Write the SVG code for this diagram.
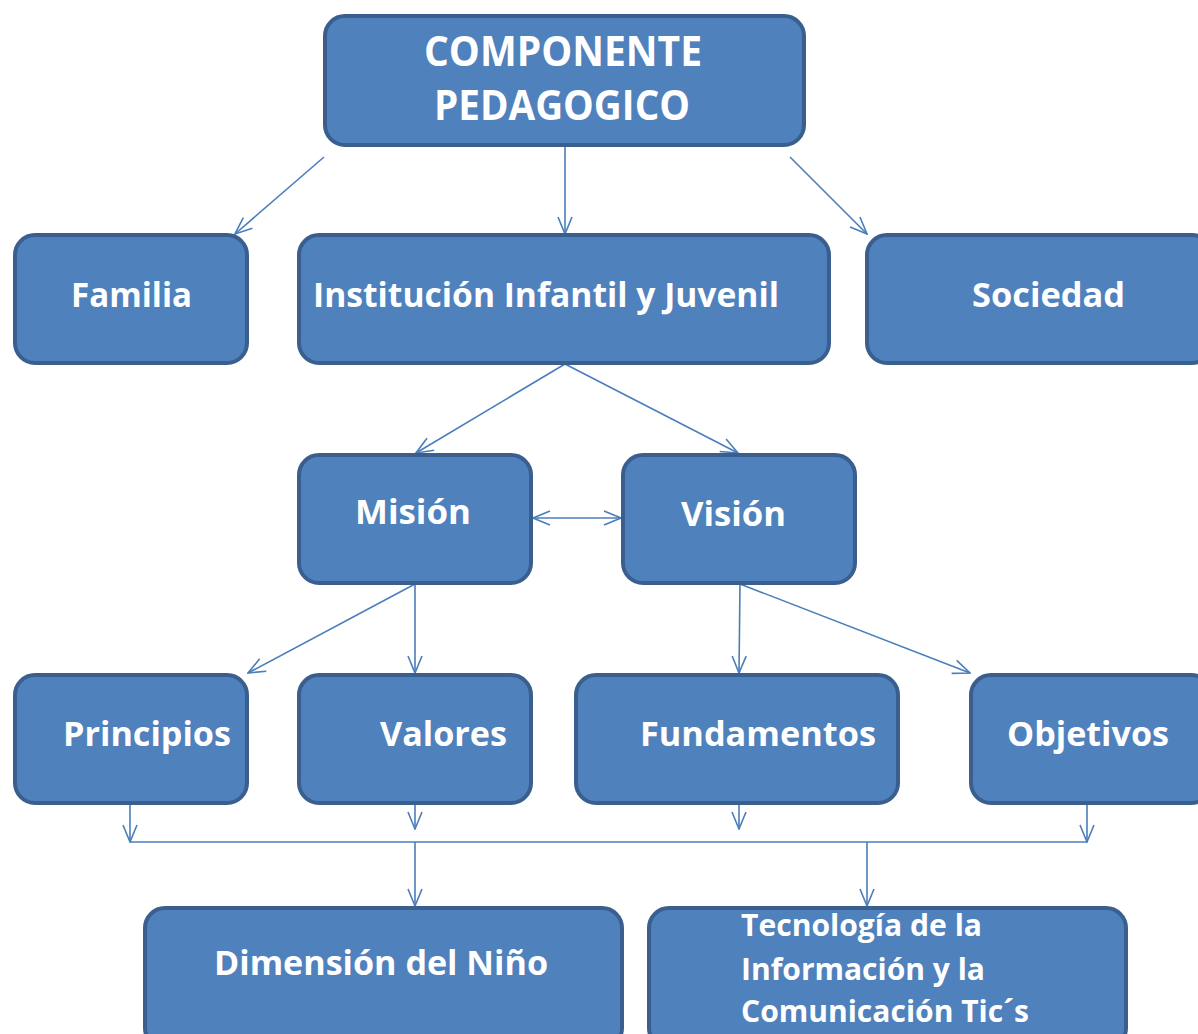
<svg xmlns="http://www.w3.org/2000/svg" width="1198" height="1034" viewBox="0 0 1198 1034">
<defs>
<style>
.box{fill:#4f81bd;stroke:#3a5f8e;stroke-width:4}
.t{fill:#fff;font-family:"Open Sans","Liberation Sans",sans-serif;font-weight:bold;font-size:34px}
.t.big{font-size:41px}
.t.sm{font-size:30px}
.c{fill:none;stroke:#4a7ebb;stroke-width:1.6}
</style>
<marker id="a" viewBox="0 0 20 20" refX="19" refY="10" markerWidth="20" markerHeight="20" markerUnits="userSpaceOnUse" orient="auto-start-reverse">
<path d="M2,3 L19,10 L2,17" fill="none" stroke="#4a7ebb" stroke-width="1.6"/>
</marker>
</defs>
<rect width="1198" height="1034" fill="#fff"/>
<g id="connectors">
<line class="c" x1="324" y1="157" x2="235" y2="234" marker-end="url(#a)"/>
<line class="c" x1="565" y1="146" x2="565" y2="234" marker-end="url(#a)"/>
<line class="c" x1="790" y1="157" x2="867" y2="234" marker-end="url(#a)"/>
<line class="c" x1="565" y1="364" x2="416" y2="453" marker-end="url(#a)"/>
<line class="c" x1="565" y1="364" x2="738" y2="453" marker-end="url(#a)"/>
<line class="c" x1="533" y1="518" x2="621" y2="518" marker-start="url(#a)" marker-end="url(#a)"/>
<line class="c" x1="415" y1="584" x2="248" y2="673" marker-end="url(#a)"/>
<line class="c" x1="415" y1="584" x2="415" y2="673" marker-end="url(#a)"/>
<line class="c" x1="740" y1="584" x2="739" y2="673" marker-end="url(#a)"/>
<line class="c" x1="740" y1="584" x2="970" y2="673" marker-end="url(#a)"/>
<line class="c" x1="130" y1="804" x2="130" y2="842" marker-end="url(#a)"/>
<line class="c" x1="415" y1="804" x2="415" y2="829" marker-end="url(#a)"/>
<line class="c" x1="739" y1="804" x2="739" y2="829" marker-end="url(#a)"/>
<line class="c" x1="1087" y1="804" x2="1087" y2="842" marker-end="url(#a)"/>
<line class="c" x1="130" y1="842" x2="1087" y2="842"/>
<line class="c" x1="415" y1="842" x2="415" y2="906" marker-end="url(#a)"/>
<line class="c" x1="867" y1="842" x2="867" y2="906" marker-end="url(#a)"/>
</g>
<g id="componente"><rect class="box" x="325" y="16" width="479" height="129" rx="20"/>
<text class="t big" x="424" y="66" textLength="278" lengthAdjust="spacingAndGlyphs">COMPONENTE</text>
<text class="t big" x="434" y="120" textLength="256" lengthAdjust="spacingAndGlyphs">PEDAGOGICO</text></g>
<g id="familia"><rect class="box" x="15" y="235" width="232" height="128" rx="20"/>
<text class="t" x="71" y="307" textLength="121" lengthAdjust="spacingAndGlyphs">Familia</text></g>
<g id="institucion"><rect class="box" x="299" y="235" width="530" height="128" rx="20"/>
<text class="t" x="313" y="307" textLength="466" lengthAdjust="spacingAndGlyphs">Institución Infantil y Juvenil</text></g>
<g id="sociedad"><rect class="box" x="867" y="235" width="345" height="128" rx="20"/>
<text class="t" x="972" y="307" textLength="153" lengthAdjust="spacingAndGlyphs">Sociedad</text></g>
<g id="mision"><rect class="box" x="299" y="455" width="232" height="128" rx="20"/>
<text class="t" x="355" y="524" textLength="116" lengthAdjust="spacingAndGlyphs">Misión</text></g>
<g id="vision"><rect class="box" x="623" y="455" width="232" height="128" rx="20"/>
<text class="t" x="681" y="526" textLength="105" lengthAdjust="spacingAndGlyphs">Visión</text></g>
<g id="principios"><rect class="box" x="15" y="675" width="232" height="128" rx="20"/>
<text class="t" x="63" y="746" textLength="168" lengthAdjust="spacingAndGlyphs">Principios</text></g>
<g id="valores"><rect class="box" x="299" y="675" width="232" height="128" rx="20"/>
<text class="t" x="380" y="746" textLength="127" lengthAdjust="spacingAndGlyphs">Valores</text></g>
<g id="fundamentos"><rect class="box" x="576" y="675" width="322" height="128" rx="20"/>
<text class="t" x="640" y="746" textLength="236" lengthAdjust="spacingAndGlyphs">Fundamentos</text></g>
<g id="objetivos"><rect class="box" x="971" y="675" width="240" height="128" rx="20"/>
<text class="t" x="1007" y="746" textLength="162" lengthAdjust="spacingAndGlyphs">Objetivos</text></g>
<g id="dimension"><rect class="box" x="145" y="908" width="477" height="140" rx="20"/>
<text class="t" x="214" y="975" textLength="334" lengthAdjust="spacingAndGlyphs">Dimensión del Niño</text></g>
<g id="tecnologia"><rect class="box" x="649" y="908" width="477" height="140" rx="20"/>
<text class="t sm" x="741" y="936" textLength="241" lengthAdjust="spacingAndGlyphs">Tecnología  de la</text>
<text class="t sm" x="741" y="980" textLength="244" lengthAdjust="spacingAndGlyphs">Información y la</text>
<text class="t sm" x="741" y="1022" textLength="288" lengthAdjust="spacingAndGlyphs">Comunicación  Tic´s</text></g>
</svg>
